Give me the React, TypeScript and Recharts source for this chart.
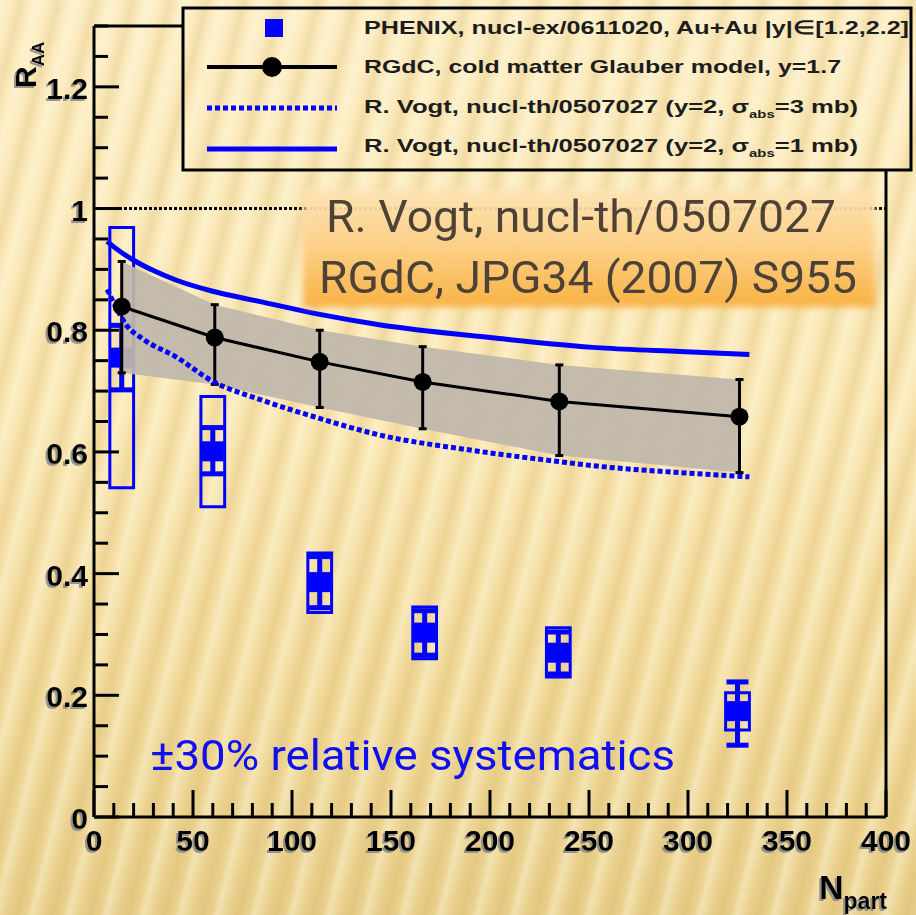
import React from "react";
import {
  ComposedChart,
  XAxis,
  YAxis,
  Line,
  Area,
  Scatter,
  ErrorBar,
  ReferenceLine,
  ReferenceArea,
} from "recharts";

// RGdC, cold matter Glauber model, y=1.7 (points + error band)
const rgdcNpart = [14, 61, 114, 166, 235, 326];
const rgdcRaa = [0.839, 0.788, 0.748, 0.715, 0.683, 0.658];
const rgdcHigh = [0.913, 0.842, 0.8, 0.773, 0.743, 0.719];
const rgdcLow = [0.73, 0.711, 0.673, 0.638, 0.594, 0.566];

// PHENIX Au+Au |y| in [1.2,2.2]
const phenixNpart = [14, 60, 114, 167, 234.5, 325];
const phenixRaa = [0.755, 0.601, 0.386, 0.303, 0.27, 0.174];
const phenixStatLow = [0.702, 0.564, 0.344, 0.266, 0.235, 0.118];
const phenixStatHigh = [0.808, 0.64, 0.428, 0.339, 0.304, 0.222];
const phenixSysLow = [0.541, 0.51, 0.336, 0.26, 0.23, 0.143];
const phenixSysHigh = [0.969, 0.691, 0.434, 0.345, 0.311, 0.204];

// R. Vogt, sigma_abs = 3 mb (dashed)
const vogt3Npart = [6.6, 10, 16, 25, 41, 60, 84, 114, 144, 190, 235, 256, 296, 331];
const vogt3Raa = [0.867, 0.845, 0.81, 0.785, 0.757, 0.716, 0.686, 0.655, 0.628, 0.603, 0.584, 0.576, 0.566, 0.559];

// R. Vogt, sigma_abs = 1 mb (solid)
const vogt1Npart = [6.6, 10, 20, 30, 41, 60, 84, 114, 144, 200, 256, 296, 331];
const vogt1Raa = [0.946, 0.937, 0.915, 0.898, 0.883, 0.864, 0.847, 0.826, 0.809, 0.788, 0.771, 0.765, 0.76];

const xTicks = Array.from({ length: 41 }, (_, i) => i * 10);
const xLabelTicks = [0, 50, 100, 150, 200, 250, 300, 350, 400];
const yTicks = Array.from({ length: 27 }, (_, i) => Math.round(i * 5) / 100);
const yLabelTicks = [0, 0.2, 0.4, 0.6, 0.8, 1, 1.2];

// tick mark lengths in data units (inward ticks, ROOT style)
const X_TICK_MAJOR = 0.0444;
const X_TICK_MINOR = 0.023;
const Y_TICK_MAJOR = 12.6;
const Y_TICK_MINOR = 7.1;

const rgdcData = rgdcNpart.map((n, i) => ({
  n,
  r: rgdcRaa[i],
  lo: rgdcLow[i],
  hi: rgdcHigh[i],
  err: [rgdcRaa[i] - rgdcLow[i], rgdcHigh[i] - rgdcRaa[i]],
}));
const phenixData = phenixNpart.map((n, i) => ({
  n,
  r: phenixRaa[i],
  stat: [phenixRaa[i] - phenixStatLow[i], phenixStatHigh[i] - phenixRaa[i]],
}));
const vogt3Data = vogt3Npart.map((n, i) => ({ n, r: vogt3Raa[i] }));
const vogt1Data = vogt1Npart.map((n, i) => ({ n, r: vogt1Raa[i] }));

const BLUE = "#0000ff";
const AXIS_FONT = "'Liberation Sans', Arial, Helvetica, sans-serif";

const isMajorX = (v: number) => xLabelTicks.includes(v);
const isMajorY = (v: number) => yLabelTicks.some((t) => Math.abs(t - v) < 1e-6);

const XTick = (props: any) => {
  const { x, y, payload } = props;
  const v = payload.value;
  if (!isMajorX(v)) return <g />;
  return (
    <text
      x={x}
      y={Number(y) + 34}
      textAnchor="middle"
      fontFamily={AXIS_FONT}
      fontSize={30}
      fontWeight="bold"
      fill="#000"
      filter="url(#grayShadow)"
    >
      {v}
    </text>
  );
};

const YTick = (props: any) => {
  const { x, y, payload } = props;
  const v = payload.value;
  if (!isMajorY(v)) return <g />;
  const label = v === 0 ? "0" : v === 1 ? "1" : v.toFixed(1);
  return (
    <text
      x={Number(x) - 6}
      y={Number(y) + 12}
      textAnchor="end"
      fontFamily={AXIS_FONT}
      fontSize={30}
      fontWeight="bold"
      fill="#000"
      filter="url(#grayShadow)"
    >
      {label}
    </text>
  );
};

const PhenixMarker = (props: any) => {
  const { cx, cy } = props;
  return <rect x={cx - 11} y={cy - 10} width={22} height={20} fill={BLUE} />;
};

const RgdcDot = (props: any) => {
  const { cx, cy } = props;
  return <circle cx={cx} cy={cy} r={9} fill="#000" />;
};

export default function App() {
  return (
    <div
      style={{
        position: "absolute",
        left: 0,
        top: 0,
        width: 916,
        height: 915,
        overflow: "hidden",
        background:
          "repeating-linear-gradient(104deg, rgba(255,252,228,0.4) 0px, rgba(255,252,228,0) 11px, rgba(196,156,62,0.18) 21px, rgba(255,252,228,0) 30px, rgba(255,252,228,0.4) 36px), linear-gradient(180deg, #fcecc2 0%, #f9e6b2 45%, #f1da9c 75%, #e9cf8c 100%)",
      }}
    >
      <div style={{ position: "absolute", left: 0, top: 0 }}>
        <ComposedChart
          width={916}
          height={915}
          data={rgdcData}
          margin={{ top: 26, right: 30, bottom: 38, left: 34 }}
        >
          <XAxis
            dataKey="n"
            type="number"
            domain={[0, 400]}
            ticks={xTicks}
            interval={0}
            height={60}
            tickSize={0}
            tickMargin={0}
            tickLine={false}
            axisLine={{ stroke: "#000", strokeWidth: 3 }}
            tick={<XTick />}
            allowDataOverflow
          />
          <YAxis
            dataKey="r"
            type="number"
            domain={[0, 1.3]}
            ticks={yTicks}
            interval={0}
            width={60}
            tickSize={0}
            tickMargin={0}
            tickLine={false}
            axisLine={{ stroke: "#000", strokeWidth: 3 }}
            tick={<YTick />}
            allowDataOverflow
          />
          {/* inward tick marks */}
          {xTicks.map((v) => (
            <ReferenceLine
              key={"xt" + v}
              segment={[{ x: v, y: 0 }, { x: v, y: isMajorX(v) ? X_TICK_MAJOR : X_TICK_MINOR }]}
              stroke="#000"
              strokeWidth={3}
            />
          ))}
          {yTicks.map((v) => (
            <ReferenceLine
              key={"yt" + v}
              segment={[{ x: 0, y: v }, { x: isMajorY(v) ? Y_TICK_MAJOR : Y_TICK_MINOR, y: v }]}
              stroke="#000"
              strokeWidth={3}
            />
          ))}
          {/* frame pieces not hidden by the legend */}
          <ReferenceLine segment={[{ x: 0, y: 1.3 }, { x: 45, y: 1.3 }]} stroke="#000" strokeWidth={3} />
          <ReferenceLine segment={[{ x: 400, y: 0 }, { x: 400, y: 1.064 }]} stroke="#000" strokeWidth={3} />
          <ReferenceLine y={1} stroke="#000" strokeWidth={3} strokeDasharray="3 2" />

          {phenixNpart.map((n, i) => (
            <ReferenceArea
              key={"sys" + i}
              x1={n - 6}
              x2={n + 6}
              y1={phenixSysLow[i]}
              y2={phenixSysHigh[i]}
              fill="none"
              fillOpacity={0}
              stroke={BLUE}
              strokeWidth={3}
              zIndex={50}
            />
          ))}
          <Scatter data={phenixData} dataKey="r" shape={<PhenixMarker />} isAnimationActive={false} zIndex={50}>
            <ErrorBar dataKey="stat" direction="y" width={11} stroke={BLUE} strokeWidth={5} isAnimationActive={false} zIndex={50} />
          </Scatter>

          <Area
            dataKey={(d: any) => [d.lo, d.hi]}
            type="linear"
            stroke="none"
            fill="#c0b7ab"
            fillOpacity={0.93}
            isAnimationActive={false}
          />
          <Line
            dataKey="r"
            type="linear"
            stroke="#000"
            strokeWidth={3}
            dot={<RgdcDot />}
            isAnimationActive={false}
          >
            <ErrorBar dataKey="err" direction="y" width={4} stroke="#000" strokeWidth={3} isAnimationActive={false} />
          </Line>
          <Line
            data={vogt3Data}
            dataKey="r"
            type="monotone"
            stroke={BLUE}
            strokeWidth={5}
            strokeDasharray="5 3"
            dot={false}
            isAnimationActive={false}
          />
          <Line
            data={vogt1Data}
            dataKey="r"
            type="monotone"
            stroke={BLUE}
            strokeWidth={5}
            dot={false}
            isAnimationActive={false}
          />
        </ComposedChart>
      </div>

      {/* orange annotation backdrop, above the dotted unity line */}
      <div
        style={{
          position: "absolute",
          left: 303,
          top: 189,
          width: 572,
          height: 118,
          background:
            "linear-gradient(180deg, rgba(253,228,182,0.92) 0%, rgba(252,206,132,0.97) 50%, rgba(248,178,68,1) 100%)",
          filter: "blur(3px)",
        }}
      />

      <svg
        width={916}
        height={915}
        style={{ position: "absolute", left: 0, top: 0, pointerEvents: "none" }}
      >
        <defs>
          <filter id="grayShadow" x="-20%" y="-20%" width="140%" height="150%">
            <feDropShadow dx={-2} dy={2} stdDeviation={0.6} floodColor="#8a8a8a" floodOpacity={0.9} />
          </filter>
        </defs>
        {/* legend */}
        <rect x={183} y={8} width={728} height={162} fill="none" stroke="#000" strokeWidth={3} />
        <rect x={265} y={19} width={18} height={18} fill={BLUE} />
        <line x1={207} y1={67} x2={337} y2={67} stroke="#000" strokeWidth={4} />
        <circle cx={272} cy={67} r={10} fill="#000" />
        <line x1={207} y1={108} x2={337} y2={108} stroke={BLUE} strokeWidth={5} strokeDasharray="5 3" />
        <line x1={207} y1={149} x2={337} y2={149} stroke={BLUE} strokeWidth={5} />
        <g fontFamily={AXIS_FONT} fontWeight="bold" fontSize={19} fill="#1c1c1c">
          <text x={364} y={34} textLength={545} lengthAdjust="spacingAndGlyphs">
            PHENIX, nucl-ex/0611020, Au+Au |y|∈[1.2,2.2]
          </text>
          <text x={364} y={73} textLength={477} lengthAdjust="spacingAndGlyphs">
            RGdC, cold matter Glauber model, y=1.7
          </text>
          <text x={364} y={113} textLength={494} lengthAdjust="spacingAndGlyphs">
            R. Vogt, nucl-th/0507027 (y=2, σ<tspan fontSize={11} dy={5}>abs</tspan><tspan dy={-5}>=3 mb)</tspan>
          </text>
          <text x={364} y={152} textLength={494} lengthAdjust="spacingAndGlyphs">
            R. Vogt, nucl-th/0507027 (y=2, σ<tspan fontSize={11} dy={5}>abs</tspan><tspan dy={-5}>=1 mb)</tspan>
          </text>
        </g>

        {/* axis titles */}
        <g fontFamily={AXIS_FONT} fontWeight="bold" fill="#000" filter="url(#grayShadow)">
          <text x={36} y={88} fontSize={30} transform="rotate(-90 36 88)">
            R<tspan fontSize={17} dy={8}>AA</tspan>
          </text>
          <text x={819} y={899} fontSize={34}>
            N<tspan fontSize={23} dy={10}>part</tspan>
          </text>
        </g>

        {/* annotation texts */}
        <g fontFamily="Roboto, 'Open Sans', sans-serif" fill="#4e4236" fontSize={44}>
          <text x={326} y={232} textLength={510} lengthAdjust="spacingAndGlyphs">
            R. Vogt, nucl-th/0507027
          </text>
          <text x={319} y={293} textLength={538} lengthAdjust="spacingAndGlyphs">
            RGdC, JPG34 (2007) S955
          </text>
        </g>
        <text
          x={150}
          y={770}
          fontFamily="Roboto, 'Open Sans', sans-serif"
          fontSize={42}
          fill="#1010ee"
          textLength={525}
          lengthAdjust="spacingAndGlyphs"
        >
          ±30% relative systematics
        </text>
      </svg>
    </div>
  );
}
